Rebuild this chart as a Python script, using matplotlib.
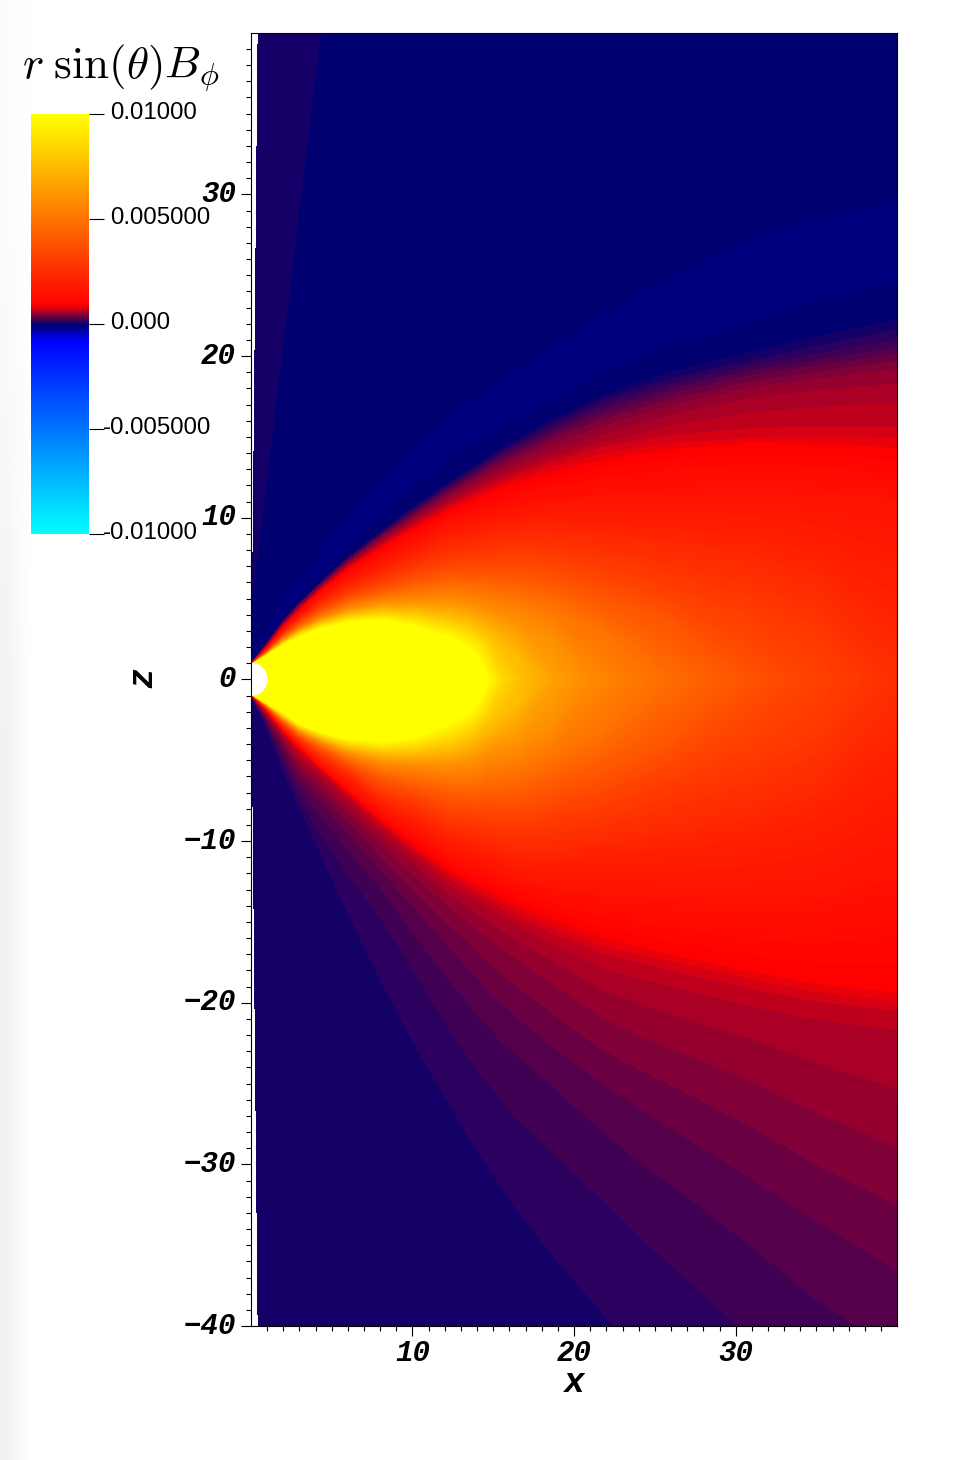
import numpy as np
import matplotlib
matplotlib.use("Agg")
import matplotlib.pyplot as plt
from matplotlib.cm import ScalarMappable
from matplotlib.colors import LinearSegmentedColormap, Normalize
from matplotlib.patches import Circle
from matplotlib.transforms import ScaledTranslation

W, H = 970, 1460
STEP = 0.02 / 256

x_cols = [0, 1, 2, 3, 4.3, 6, 8.2, 10.2, 12.3, 13.5, 14.2, 14.6, 15.5, 16.5, 18.5, 21.6, 24, 26, 30.9, 35, 40]

# upper half: purple wedge and the brighter navy band
wedge_z = [4.45, 12.7, 21, 29.3, 40] + [40.5] * 16
band_top_z = [1.3, 3.3, 4.9, 6.4, 8.0, 10.2, 12.7, 14.6, 16.4, 17.2, 17.65, 17.9, 18.55, 19.2, 20.5, 22.5, 24.0, 25.0, 27.3, 28.6, 29.6]
band_mid_z = [1.25, 3.0, 4.45, 5.75, 7.2, 9.1, 11.35, 13.25, 15.05, 15.78, 16.2, 16.4, 17.0, 17.6, 18.8, 20.65, 21.95, 22.8, 24.65, 25.95, 27.05]
band_low_z = [1.2, 2.7, 4.0, 5.1, 6.4, 8.0, 10.0, 11.9, 13.7, 14.35, 14.75, 14.95, 15.5, 16.0, 17.1, 18.8, 19.9, 20.6, 22.0, 23.3, 24.5]
top_v = [3.9e-5] * 5 + [-3.9e-5] * 16
wedge_v = [0] * 5 + [-3.9e-5] * 16
band_edge_v = [-3.9e-5] + [-7.8125e-5] * 20
band_mid_v = [-3.9e-5] + [-1.17e-4] * 20

# value on the z = 0 row
center_v = [0.0105] * 10 + [0.0103, 0.01, 0.0086, 0.0078, 0.0067, 0.0056, 0.0051, 0.0047, 0.0038, 0.0032, 0.0025]

# dark band edges, upper half: one list per x column, steps 0..11
upper_dark = [
    [0.95] * 12,
    [2.30, 2.28, 2.25, 2.22, 2.20, 2.17, 2.14, 2.09, 2.05, 2.02, 1.99, 1.95],
    [3.65, 3.62, 3.59, 3.55, 3.52, 3.48, 3.44, 3.38, 3.33, 3.29, 3.25, 3.20],
    [4.75, 4.72, 4.68, 4.64, 4.61, 4.57, 4.52, 4.45, 4.39, 4.35, 4.30, 4.25],
    [6.0, 5.96, 5.92, 5.88, 5.84, 5.80, 5.74, 5.67, 5.60, 5.56, 5.51, 5.45],
    [7.55, 7.50, 7.45, 7.39, 7.33, 7.27, 7.20, 7.10, 7.01, 6.95, 6.88, 6.80],
    [9.25, 9.18, 9.10, 9.02, 8.95, 8.86, 8.76, 8.62, 8.49, 8.41, 8.31, 8.20],
    [10.75, 10.65, 10.55, 10.44, 10.34, 10.23, 10.09, 9.91, 9.74, 9.63, 9.49, 9.35],
    [12.2, 12.08, 11.96, 11.82, 11.69, 11.55, 11.38, 11.15, 10.94, 10.8, 10.63, 10.45],
    [12.98, 12.84, 12.70, 12.54, 12.40, 12.24, 12.04, 11.78, 11.54, 11.38, 11.18, 10.98],
    [13.43, 13.28, 13.13, 12.95, 12.80, 12.63, 12.41, 12.13, 11.87, 11.70, 11.49, 11.27],
    [13.7, 13.54, 13.39, 13.2, 13.05, 12.87, 12.64, 12.35, 12.08, 11.9, 11.68, 11.45],
    [14.28, 14.1, 13.93, 13.73, 13.56, 13.36, 13.11, 12.79, 12.5, 12.3, 12.05, 11.8],
    [14.85, 14.66, 14.47, 14.26, 14.07, 13.85, 13.58, 13.23, 12.91, 12.69, 12.42, 12.15],
    [15.95, 15.73, 15.5, 15.25, 15.02, 14.77, 14.45, 14.03, 13.65, 13.39, 13.07, 12.75],
    [17.46, 17.2, 16.9, 16.6, 16.3, 16.0, 15.6, 15.1, 14.6, 14.3, 13.9, 13.5],
    [18.35, 18.0, 17.65, 17.35, 17.05, 16.7, 16.3, 15.75, 15.15, 14.75, 14.3, 13.9],
    [19.0, 18.6, 18.25, 17.95, 17.65, 17.3, 16.9, 16.3, 15.65, 15.1, 14.6, 14.2],
    [20.2, 19.7, 19.4, 19.1, 18.8, 18.4, 18.0, 17.4, 16.5, 15.5, 14.9, 14.65],
    [21.2, 20.6, 20.1, 19.7, 19.4, 19.0, 18.55, 17.85, 16.8, 15.6, 15.0, 14.55],
    [22.2, 21.6, 21.0, 20.5, 20.1, 19.7, 19.2, 18.3, 17.1, 15.6, 14.9, 14.3],
]

# red to yellow levels and where they sit, upper half
bright_levels = [0.0015, 0.002, 0.003, 0.004, 0.005, 0.006, 0.0075, 0.0088, 0.01]
upper_bright = [
    [0.9] * 9,
    [1.88, 1.82, 1.75, 1.7, 1.65, 1.6, 1.55, 1.52, 1.5],
    [3.05, 2.9, 2.75, 2.6, 2.5, 2.4, 2.3, 2.2, 2.1],
    [3.95, 3.8, 3.55, 3.35, 3.2, 3.05, 2.9, 2.75, 2.6],
    [5.1, 4.8, 4.45, 4.15, 3.9, 3.7, 3.5, 3.3, 3.1],
    [6.25, 5.85, 5.3, 4.9, 4.6, 4.3, 4.0, 3.75, 3.5],
    [7.5, 6.9, 6.1, 5.5, 5.1, 4.7, 4.3, 3.95, 3.65],
    [8.5, 7.8, 6.8, 6.0, 5.4, 4.8, 4.2, 3.7, 3.2],
    [9.6, 8.8, 7.4, 6.4, 5.6, 4.8, 3.9, 3.2, 2.5],
    [9.9, 9.0, 7.5, 6.4, 5.5, 4.6, 3.6, 2.75, 1.8],
    [10.1, 9.2, 7.6, 6.4, 5.4, 4.4, 3.2, 2.2, 1.0],
    [10.2, 9.3, 7.6, 6.3, 5.3, 4.3, 3.0, 1.75, 0],
    [10.45, 9.45, 7.7, 6.25, 5.15, 3.95, 2.3, 0, 0],
    [10.7, 9.6, 7.8, 6.2, 5.0, 3.6, 1.4, 0, 0],
    [11.0, 9.7, 7.6, 5.9, 4.4, 2.6, 0, 0, 0],
    [11.3, 9.6, 7.0, 4.9, 3.0, 0, 0, 0, 0],
    [11.5, 9.5, 6.5, 4.0, 1.0, 0, 0, 0, 0],
    [11.6, 9.4, 5.8, 3.2, 0, 0, 0, 0, 0],
    [11.7, 9.0, 4.2, 0, 0, 0, 0, 0, 0],
    [11.6, 8.0, 2.2, 0, 0, 0, 0, 0, 0],
    [11.0, 5.5, 0, 0, 0, 0, 0, 0, 0],
]

# lower half, depth below z = 0, steps 1..11
lower_dark = [
    [0.95] * 11,
    [3.0, 2.8, 2.65, 2.5, 2.4, 2.3, 2.2, 2.1, 2.05, 2.0, 1.95],
    [5.6, 5.1, 4.7, 4.3, 4.0, 3.75, 3.55, 3.4, 3.3, 3.2, 3.15],
    [7.9, 7.2, 6.6, 6.1, 5.7, 5.3, 5.0, 4.7, 4.45, 4.3, 4.2],
    [10.7, 9.5, 8.4, 7.6, 7.0, 6.5, 6.1, 5.8, 5.6, 5.5, 5.45],
    [14.4, 12.0, 10.5, 9.5, 8.8, 8.2, 7.8, 7.4, 7.15, 7.0, 6.9],
    [18.9, 15.0, 13.1, 12.0, 11.1, 10.3, 9.8, 9.4, 9.1, 8.95, 8.8],
    [22.7, 18.2, 15.9, 14.2, 13.1, 12.2, 11.5, 11.0, 10.7, 10.5, 10.3],
    [26.3, 21.6, 18.6, 16.6, 15.2, 14.1, 13.3, 12.7, 12.3, 12.05, 11.8],
    [28.3, 23.4, 20.1, 17.9, 16.3, 15.0, 14.1, 13.4, 13.0, 12.7, 12.45],
    [29.4, 24.4, 21.0, 18.7, 17.0, 15.6, 14.6, 13.85, 13.4, 13.1, 12.8],
    [30.0, 24.8, 21.4, 19.1, 17.35, 15.9, 14.9, 14.1, 13.6, 13.3, 12.95],
    [31.4, 26.0, 22.35, 20.0, 18.2, 16.6, 15.5, 14.65, 14.15, 13.8, 13.42],
    [32.8, 27.2, 23.3, 20.9, 19.0, 17.3, 16.1, 15.2, 14.7, 14.3, 13.9],
    [35.4, 29.1, 25.0, 22.6, 20.5, 18.7, 17.3, 16.3, 15.6, 15.2, 14.75],
    [39.0, 32.0, 27.8, 24.9, 22.8, 20.8, 19.1, 17.8, 16.9, 16.4, 15.9],
    [41.8, 34.4, 29.8, 26.5, 24.1, 22.0, 20.0, 18.5, 17.5, 17.0, 16.5],
    [44.2, 36.2, 31.2, 27.8, 25.1, 22.8, 20.7, 19.0, 18.0, 17.4, 17.0],
    [51.0, 40.7, 35.0, 30.8, 27.6, 24.8, 22.2, 20.2, 19.1, 18.5, 18.05],
    [56.0, 44.5, 38.4, 33.5, 30.0, 26.8, 23.7, 21.0, 19.9, 19.3, 18.8],
    [63.0, 49.0, 41.5, 36.5, 32.5, 28.9, 25.3, 21.7, 20.5, 19.9, 19.36],
]
lower_bright = [
    [0.9] * 9,
    [1.88, 1.82, 1.75, 1.7, 1.65, 1.6, 1.55, 1.52, 1.5],
    [3.05, 2.9, 2.75, 2.6, 2.5, 2.4, 2.3, 2.15, 2.0],
    [4.0, 3.85, 3.6, 3.45, 3.3, 3.15, 3.0, 2.85, 2.74],
    [5.2, 4.9, 4.5, 4.2, 4.0, 3.8, 3.6, 3.4, 3.2],
    [6.5, 6.0, 5.5, 5.1, 4.8, 4.5, 4.2, 3.9, 3.65],
    [8.2, 7.7, 6.9, 6.1, 5.6, 5.1, 4.6, 4.2, 3.8],
    [9.4, 8.6, 7.5, 6.6, 5.9, 5.2, 4.6, 4.05, 3.5],
    [10.7, 9.8, 8.4, 7.2, 6.2, 5.3, 4.3, 3.5, 2.64],
    [11.2, 10.2, 8.6, 7.3, 6.2, 5.1, 3.9, 2.9, 1.9],
    [11.5, 10.4, 8.7, 7.3, 6.1, 4.8, 3.4, 2.25, 1.1],
    [11.6, 10.5, 8.7, 7.2, 5.9, 4.6, 3.1, 1.75, 0],
    [12.0, 10.85, 8.85, 7.2, 5.75, 4.3, 2.4, 0, 0],
    [12.4, 11.2, 9.0, 7.2, 5.6, 4.0, 1.5, 0, 0],
    [12.8, 11.3, 8.6, 6.6, 4.8, 2.7, 0, 0, 0],
    [13.2, 11.0, 8.0, 5.5, 3.2, 0, 0, 0, 0],
    [13.4, 10.8, 7.2, 4.4, 1.0, 0, 0, 0, 0],
    [13.6, 10.6, 6.4, 3.4, 0, 0, 0, 0, 0],
    [13.8, 10.0, 4.5, 0, 0, 0, 0, 0, 0],
    [13.6, 8.8, 2.4, 0, 0, 0, 0, 0, 0],
    [12.0, 5.5, 0, 0, 0, 0, 0, 0, 0],
]

# white sliver along the axis, stepped like the source grid
edge_z = [-40, -39.3, -33, -26.7, -20.4, -14.2, -7.9, -1.7, 1.7, 7.9, 14.1, 20.4, 26.7, 33, 39.3, 40]
edge_x = [0.45, 0.37, 0.31, 0.25, 0.19, 0.12, 0.06, 0, 0.06, 0.12, 0.19, 0.25, 0.31, 0.37, 0.45, 0.45]

# colour map: position in lookup table, colour
cmap_idx = [0, 117, 127, 139, 255]
cmap_rgb = [(0, 1, 1), (0, 0, 1), (0, 0, 0.44), (1, 0, 0), (1, 1, 0)]

cbar_ticks = [0.01, 0.005, 0.0, -0.005, -0.01]
cbar_labels = ["0.01000", "0.005000", "0.000", "-0.005000", "-0.01000"]
x_ticks = [10, 20, 30]
z_ticks = [-40, -30, -20, -10, 0, 10, 20, 30]
left_shade = [[0.985, 0.99, 0.995, 1.0], [0.945, 0.97, 0.99, 1.0], [0.945, 0.97, 0.99, 1.0]]


def box(x0, y0, x1, y1):
    # pixel box, y from top, to figure fractions
    return [x0 / W, 1 - y1 / H, (x1 - x0) / W, (y1 - y0) / H]


def build_rows():
    n = len(x_cols)
    up_d = np.array(upper_dark).T
    up_b = np.array(upper_bright).T
    lo_d = np.array(lower_dark).T
    lo_b = np.array(lower_bright).T
    center = np.array(center_v)
    zs, vs = [], []

    def add(z, v):
        zs.append(np.asarray(z, float))
        vs.append(np.asarray(v, float))

    add([41.0] * n, top_v)
    add(wedge_z, wedge_v)
    add(band_top_z, band_edge_v)
    add(band_mid_z, band_mid_v)
    add(band_low_z, band_edge_v)
    for k in range(12):
        add(up_d[k], [k * STEP] * n)
    for i, lev in enumerate(bright_levels):
        add(up_b[i], np.minimum(lev, center))
    add([0.0] * n, center)
    for i in range(len(bright_levels) - 1, -1, -1):
        add(-lo_b[i], np.minimum(bright_levels[i], center))
    for k in range(11, 0, -1):
        add(-lo_d[k - 1], [k * STEP] * n)
    add([-70.0] * n, [3.9e-5] * n)
    return np.array(zs), np.array(vs)


def main():
    plt.rcParams["mathtext.fontset"] = "cm"
    fig = plt.figure(figsize=(W / 100, H / 100), dpi=100)

    # faint grey strip at the left of the window
    bg = fig.add_axes(box(0, 0, 45, H), zorder=-1)
    bg.imshow(left_shade, cmap="gray", vmin=0, vmax=1, aspect="auto", interpolation="bilinear")
    bg.axis("off")

    positions = [i / 255 for i in cmap_idx]
    cmap = LinearSegmentedColormap.from_list("field", list(zip(positions, cmap_rgb)), N=256)
    cmap.set_over((1, 1, 0))
    norm = Normalize(-0.01, 0.01)

    ax = fig.add_axes(box(250.9, 32.7, 897.3, 1326))
    Z, V = build_rows()
    X = np.tile(np.array(x_cols, float), (Z.shape[0], 1))
    levels = STEP * np.arange(-128, 129)
    ax.contourf(X, Z, V, levels=levels, cmap=cmap, norm=norm, extend="max", antialiased=False)

    ax.fill_betweenx(edge_z, 0, edge_x, step="post", color="white", lw=0, zorder=3)
    ax.add_patch(Circle((0, 0), 1.03, color="white", lw=0, zorder=3))
    ax.set_xlim(0, 40)
    ax.set_ylim(-40, 40)

    tick_font = dict(family="Liberation Mono", weight="bold", style="italic", size=21)
    ax.set_xticks(x_ticks)
    ax.set_yticks(z_ticks)
    ax.set_xticks(np.arange(1, 40), minor=True)
    ax.set_yticks(np.arange(-39, 40), minor=True)
    ax.tick_params(which="major", length=7.2, width=0.8, pad=3.5)
    ax.tick_params(axis="x", which="major", pad=2)
    ax.tick_params(which="minor", length=3.6, width=0.8)
    for lab in ax.get_xticklabels() + ax.get_yticklabels():
        lab.set(**tick_font)
    lift = ScaledTranslation(0, 3.5 / 100, fig.dpi_scale_trans)
    for lab in ax.get_yticklabels():
        lab.set_transform(lab.get_transform() + lift)
    for s in ax.spines.values():
        s.set_linewidth(0.8)
        s.set_zorder(5)
    label_font = dict(tick_font, size=25)
    fig.text(574 / W, 1 - 1383 / H, "x", ha="center", va="center", **label_font)
    fig.text(143 / W, 1 - 678 / H, "z", ha="center", va="center", rotation=90, **label_font)

    # colour bar
    cax = fig.add_axes(box(31, 114, 89, 534))
    cb = fig.colorbar(ScalarMappable(norm=norm, cmap=cmap), cax=cax)
    cb.outline.set_visible(False)
    cb.set_ticks(cbar_ticks)
    cb.set_ticklabels([])
    cax.tick_params(length=10.8, width=0.8)
    cax.minorticks_off()
    for t, lab in zip(cbar_ticks, cbar_labels):
        y = 114 + (0.01 - t) / 0.02 * 420 - 1
        left = 103 if lab.startswith("-") else 110
        fig.text(left / W, 1 - y / H, lab, ha="left", va="center", family="Liberation Sans", size=17.3)

    fig.text(22 / W, 1 - 68 / H, r"$r\;\sin(\theta)B_\phi$", ha="left", va="center", size=32.5)

    fig.savefig("out.png", dpi=100)


if __name__ == "__main__":
    main()
